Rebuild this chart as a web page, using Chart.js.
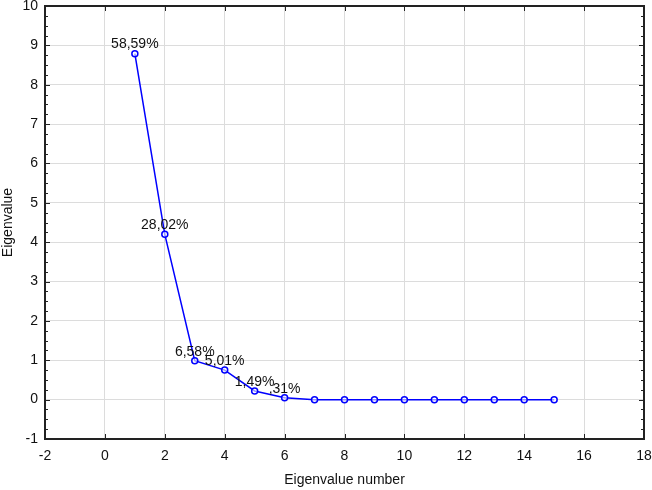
<!DOCTYPE html>
<html>
<head>
<meta charset="utf-8">
<script src="https://cdn.jsdelivr.net/npm/chart.js@4.4.1/dist/chart.umd.min.js"></script>
<style>
  body { margin: 0; background: #fff; }
  #wrap { width: 652px; height: 490px; }
</style>
</head>
<body>
<div id="wrap"><canvas id="myChart"></canvas></div>
<script>
// data
const eigenNumbers = [1, 2, 3, 4, 5, 6, 7, 8, 9, 10, 11, 12, 13, 14, 15];
const eigenValues = [8.79, 4.20, 0.99, 0.75, 0.22, 0.05, 0, 0, 0, 0, 0, 0, 0, 0, 0];
const pctLabels = ["58,59%", "28,02%", "6,58%", "5,01%", "1,49%", ",31%", "", "", "", "", "", "", "", "", ""];

const FONT = "'Liberation Sans', Arial, sans-serif";

// frame, inward ticks and the percent labels
const extras = {
  id: "extras",
  afterDraw(chart) {
    const c = chart.ctx;
    const a = chart.chartArea;
    const xs = chart.scales.x, ys = chart.scales.y;
    c.save();
    c.strokeStyle = "#222";
    c.lineWidth = 1;
    c.beginPath();
    for (let v = -2; v <= 18; v += 2) {
      const px = Math.round(xs.getPixelForValue(v)) + 0.5;
      c.moveTo(px, a.bottom); c.lineTo(px, a.bottom - 5);
      c.moveTo(px, a.top); c.lineTo(px, a.top + 5);
    }
    for (let v = -1; v <= 10; v += 0.25) {
      const py = Math.round(ys.getPixelForValue(v)) + 0.5;
      const len = Number.isInteger(v) ? 5 : 3;
      c.moveTo(a.left, py); c.lineTo(a.left + len, py);
      c.moveTo(a.right, py); c.lineTo(a.right - len, py);
    }
    c.stroke();
    c.lineWidth = 2;
    c.strokeRect(a.left, a.top, a.right - a.left, a.bottom - a.top);

    const meta = chart.getDatasetMeta(0);
    c.fillStyle = "#111";
    c.font = "14px " + FONT;
    c.textAlign = "center";
    c.textBaseline = "bottom";
    meta.data.forEach((pt, i) => {
      if (pctLabels[i]) c.fillText(pctLabels[i], pt.x, pt.y - 2);
    });
    c.restore();
  }
};

const ctx = document.getElementById("myChart");

new Chart(ctx, {
  type: "line",
  data: {
    labels: eigenNumbers,
    datasets: [{
      data: eigenNumbers.map((n, i) => ({ x: n, y: eigenValues[i] })),
      borderColor: "#0000ff",
      borderWidth: 1.5,
      pointRadius: 3,
      pointBorderWidth: 1.5,
      pointBackgroundColor: "rgba(255,255,255,0.6)",
      pointBorderColor: "#0000ff",
      tension: 0
    }]
  },
  options: {
    responsive: true,
    maintainAspectRatio: false,
    animation: false,
    layout: { padding: { top: 6, right: 8, left: 0, bottom: 0 } },
    plugins: { legend: { display: false }, tooltip: { enabled: false } },
    scales: {
      x: {
        type: "linear",
        min: -2, max: 18,
        afterFit: s => { s.height = 51; s.paddingLeft = 0; s.paddingRight = 0; },
        border: { display: false },
        grid: { color: "#dcdcdc", drawTicks: false },
        ticks: { stepSize: 2, padding: 9, color: "#111", font: { size: 14, family: FONT } },
        title: { display: true, text: "Eigenvalue number", color: "#111", padding: { top: 0, bottom: 1 }, font: { size: 14, family: FONT } }
      },
      y: {
        min: -1, max: 10,
        afterFit: s => { s.width = 45; s.paddingTop = 0; s.paddingBottom = 0; },
        border: { display: false },
        grid: { color: "#dcdcdc", drawTicks: false },
        ticks: { stepSize: 1, padding: 7, color: "#111", font: { size: 14, family: FONT } },
        title: { display: true, text: "Eigenvalue", color: "#111", padding: { top: 0, bottom: 0 }, font: { size: 14, family: FONT } }
      }
    }
  },
  plugins: [extras]
});
</script>
</body>
</html>
